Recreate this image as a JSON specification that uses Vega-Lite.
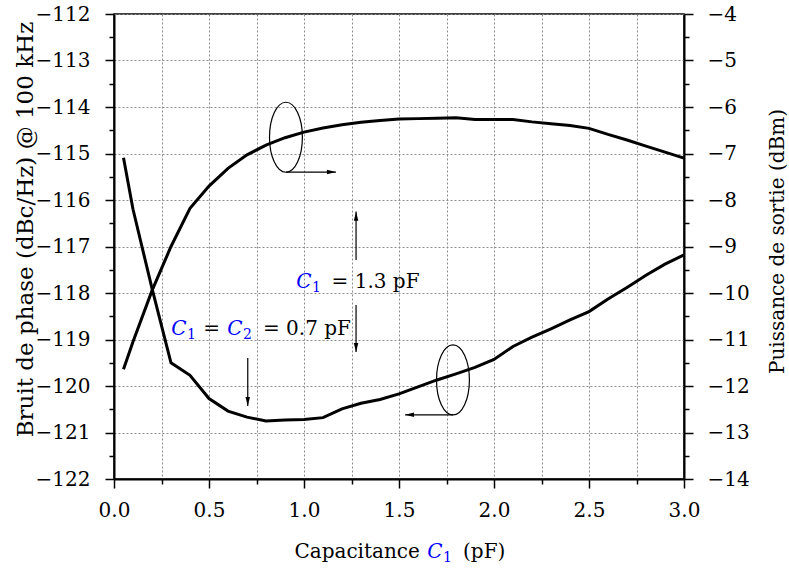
{
  "$schema": "https://vega.github.io/schema/vega-lite/v6.json",
  "width": 570,
  "height": 465,
  "autosize": {"type": "none"},
  "padding": {"left": 114, "top": 14, "right": 105, "bottom": 89},
  "background": "white",
  "config": {
    "font": "DejaVu Serif",
    "view": {"stroke": "black", "strokeWidth": 1.5},
    "axis": {
      "domainColor": "black",
      "domainWidth": 2,
      "tickColor": "black",
      "tickWidth": 1.5,
      "labelFont": "DejaVu Serif",
      "labelFontSize": 20,
      "labelColor": "black",
      "labelFlush": false,
      "labelOverlap": false,
      "titleFont": "DejaVu Serif",
      "titleFontSize": 20,
      "titleFontWeight": "normal",
      "titleColor": "black",
      "gridColor": "#8c8c8c",
      "gridDash": [2, 2],
      "gridWidth": 1
    }
  },
  "datasets": {
    "noise": [
      {"x": 0.05, "y": -115.09}, {"x": 0.1, "y": -116.2}, {"x": 0.2, "y": -117.9},
      {"x": 0.3, "y": -119.5}, {"x": 0.4, "y": -119.77}, {"x": 0.5, "y": -120.27},
      {"x": 0.6, "y": -120.54}, {"x": 0.7, "y": -120.67}, {"x": 0.8, "y": -120.75},
      {"x": 0.9, "y": -120.73}, {"x": 1.0, "y": -120.72}, {"x": 1.1, "y": -120.68},
      {"x": 1.2, "y": -120.49}, {"x": 1.3, "y": -120.37}, {"x": 1.4, "y": -120.29},
      {"x": 1.5, "y": -120.17}, {"x": 1.6, "y": -120.02}, {"x": 1.7, "y": -119.87},
      {"x": 1.8, "y": -119.74}, {"x": 1.9, "y": -119.6}, {"x": 2.0, "y": -119.43},
      {"x": 2.1, "y": -119.15}, {"x": 2.2, "y": -118.95}, {"x": 2.3, "y": -118.77},
      {"x": 2.4, "y": -118.58}, {"x": 2.5, "y": -118.4}, {"x": 2.6, "y": -118.13},
      {"x": 2.7, "y": -117.88}, {"x": 2.8, "y": -117.62}, {"x": 2.9, "y": -117.38},
      {"x": 3.0, "y": -117.18}
    ],
    "power": [
      {"x": 0.05, "y": -11.64}, {"x": 0.1, "y": -11.05}, {"x": 0.2, "y": -9.95},
      {"x": 0.3, "y": -9.0}, {"x": 0.4, "y": -8.18}, {"x": 0.5, "y": -7.7},
      {"x": 0.6, "y": -7.32}, {"x": 0.7, "y": -7.03}, {"x": 0.8, "y": -6.82},
      {"x": 0.9, "y": -6.66}, {"x": 1.0, "y": -6.54}, {"x": 1.1, "y": -6.45},
      {"x": 1.2, "y": -6.38}, {"x": 1.3, "y": -6.33}, {"x": 1.4, "y": -6.29},
      {"x": 1.5, "y": -6.26}, {"x": 1.6, "y": -6.25}, {"x": 1.7, "y": -6.24},
      {"x": 1.8, "y": -6.23}, {"x": 1.9, "y": -6.27}, {"x": 2.0, "y": -6.27},
      {"x": 2.1, "y": -6.27}, {"x": 2.2, "y": -6.32}, {"x": 2.3, "y": -6.36},
      {"x": 2.4, "y": -6.4}, {"x": 2.5, "y": -6.46}, {"x": 2.6, "y": -6.59},
      {"x": 2.7, "y": -6.71}, {"x": 2.8, "y": -6.84}, {"x": 2.9, "y": -6.97},
      {"x": 3.0, "y": -7.1}
    ],
    "ellipses": [
      {"x": 0.905, "y": -114.65},
      {"x": 1.784, "y": -119.87}
    ],
    "shafts": [
      {"x": 0.905, "y": -115.4, "x2": 1.168, "y2": -115.4},
      {"x": 1.784, "y": -120.62, "x2": 1.532, "y2": -120.62},
      {"x": 1.274, "y": -117.29, "x2": 1.274, "y2": -116.25},
      {"x": 1.274, "y": -118.26, "x2": 1.274, "y2": -119.27},
      {"x": 0.704, "y": -119.4, "x2": 0.704, "y2": -120.43}
    ],
    "heads": [
      {"x": 1.168, "y": -115.4, "dir": "right"},
      {"x": 1.532, "y": -120.62, "dir": "left"},
      {"x": 1.274, "y": -116.25, "dir": "up"},
      {"x": 1.274, "y": -119.27, "dir": "down"},
      {"x": 0.704, "y": -120.43, "dir": "down"}
    ],
    "blueC": [
      {"x": 1.0, "y": -117.89, "t": "C"},
      {"x": 0.342, "y": -118.9, "t": "C"},
      {"x": 0.637, "y": -118.9, "t": "C"},
      {"x": 1.689, "y": -123.7, "t": "C"}
    ],
    "blueSub": [
      {"x": 1.066, "y": -117.89, "t": "1"},
      {"x": 0.408, "y": -118.9, "t": "1"},
      {"x": 0.703, "y": -118.9, "t": "2"},
      {"x": 1.755, "y": -123.7, "t": "1"}
    ],
    "blackLeft": [
      {"x": 1.145, "y": -117.89, "t": "= 1.3 pF"},
      {"x": 0.784, "y": -118.9, "t": "= 0.7 pF"},
      {"x": 1.837, "y": -123.7, "t": "(pF)"}
    ],
    "blackCenter": [
      {"x": 0.514, "y": -118.9, "t": "="}
    ],
    "blackRight": [
      {"x": 1.61, "y": -123.7, "t": "Capacitance"}
    ]
  },
  "encoding": {
    "x": {
      "field": "x",
      "type": "quantitative",
      "scale": {"domain": [0, 3], "nice": false, "zero": false},
      "axis": {
        "title": null,
        "values": [0, 0.25, 0.5, 0.75, 1, 1.25, 1.5, 1.75, 2, 2.25, 2.5, 2.75, 3],
        "labelExpr": "datum.value % 0.5 === 0 ? format(datum.value, '.1f') : ''",
        "tickSize": {"condition": {"test": "datum.value % 0.5 !== 0", "value": 5}, "value": 9},
        "labelPadding": 12,
        "grid": true
      }
    }
  },
  "layer": [
    {
      "encoding": {
        "y": {
          "field": "y",
          "type": "quantitative",
          "scale": {"domain": [-122, -112], "nice": false, "zero": false},
          "axis": {
            "title": "Bruit de phase (dBc/Hz) @ 100 kHz",
            "titleFontSize": 23,
            "values": [-122, -121.5, -121, -120.5, -120, -119.5, -119, -118.5, -118, -117.5, -117, -116.5, -116, -115.5, -115, -114.5, -114, -113.5, -113, -112.5, -112],
            "labelExpr": "datum.value % 1 === 0 ? format(datum.value, 'd') : ''",
            "tickSize": {"condition": {"test": "datum.value % 1 !== 0", "value": 5}, "value": 9},
            "gridOpacity": {"condition": {"test": "datum.value % 1 !== 0", "value": 0}, "value": 1},
            "labelPadding": 15,
            "grid": true,
            "titleX": -89,
            "titleY": 215,
            "titleBaseline": "middle"
          }
        }
      },
      "layer": [
        {
          "data": {"name": "noise"},
          "mark": {"type": "line", "color": "black", "strokeWidth": 3}
        },
        {
          "data": {"name": "ellipses"},
          "mark": {
            "type": "point",
            "shape": "M0,-1C0.26,-1 0.47,-0.552 0.47,0C0.47,0.552 0.26,1 0,1C-0.26,1 -0.47,0.552 -0.47,0C-0.47,-0.552 -0.26,-1 0,-1Z",
            "size": 4900,
            "filled": false,
            "stroke": "black",
            "strokeWidth": 1.2,
            "opacity": 1
          }
        },
        {
          "data": {"name": "shafts"},
          "mark": {"type": "rule", "color": "black", "strokeWidth": 1.2},
          "encoding": {
            "x2": {"field": "x2"},
            "y2": {"field": "y2"}
          }
        },
        {
          "data": {"name": "heads"},
          "mark": {"type": "point", "filled": true, "color": "black", "size": 81, "opacity": 1},
          "encoding": {
            "shape": {
              "field": "dir",
              "type": "nominal",
              "scale": {
                "domain": ["right", "left", "up", "down"],
                "range": ["M0,0L-2,-0.5L-2,0.5Z", "M0,0L2,-0.5L2,0.5Z", "M0,0L-0.5,2L0.5,2Z", "M0,0L-0.5,-2L0.5,-2Z"]
              },
              "legend": null
            }
          }
        },
        {
          "data": {"name": "blueC"},
          "mark": {"type": "text", "color": "#0000ff", "font": "DejaVu Serif", "fontStyle": "italic", "fontSize": 20, "align": "center", "baseline": "alphabetic"},
          "encoding": {"text": {"field": "t"}}
        },
        {
          "data": {"name": "blueSub"},
          "mark": {"type": "text", "color": "#0000ff", "font": "DejaVu Serif", "fontSize": 14, "align": "center", "baseline": "alphabetic", "dy": 4},
          "encoding": {"text": {"field": "t"}}
        },
        {
          "data": {"name": "blackLeft"},
          "mark": {"type": "text", "color": "black", "font": "DejaVu Serif", "fontSize": 20, "align": "left", "baseline": "alphabetic"},
          "encoding": {"text": {"field": "t"}}
        },
        {
          "data": {"name": "blackCenter"},
          "mark": {"type": "text", "color": "black", "font": "DejaVu Serif", "fontSize": 20, "align": "center", "baseline": "alphabetic"},
          "encoding": {"text": {"field": "t"}}
        },
        {
          "data": {"name": "blackRight"},
          "mark": {"type": "text", "color": "black", "font": "DejaVu Serif", "fontSize": 20, "align": "right", "baseline": "alphabetic"},
          "encoding": {"text": {"field": "t"}}
        }
      ]
    },
    {
      "data": {"name": "power"},
      "mark": {"type": "line", "color": "black", "strokeWidth": 3},
      "encoding": {
        "y": {
          "field": "y",
          "type": "quantitative",
          "scale": {"domain": [-14, -4], "nice": false, "zero": false},
          "axis": {
            "orient": "right",
            "title": "Puissance de sortie (dBm)",
            "values": [-14, -13.5, -13, -12.5, -12, -11.5, -11, -10.5, -10, -9.5, -9, -8.5, -8, -7.5, -7, -6.5, -6, -5.5, -5, -4.5, -4],
            "labelExpr": "datum.value % 1 === 0 ? format(datum.value, 'd') : ''",
            "tickSize": {"condition": {"test": "datum.value % 1 !== 0", "value": 5}, "value": 9},
            "labelPadding": 14,
            "grid": false,
            "titleAngle": 270,
            "titleX": 93,
            "titleY": 227,
            "titleBaseline": "middle"
          }
        }
      }
    }
  ],
  "resolve": {"scale": {"y": "independent"}}
}
